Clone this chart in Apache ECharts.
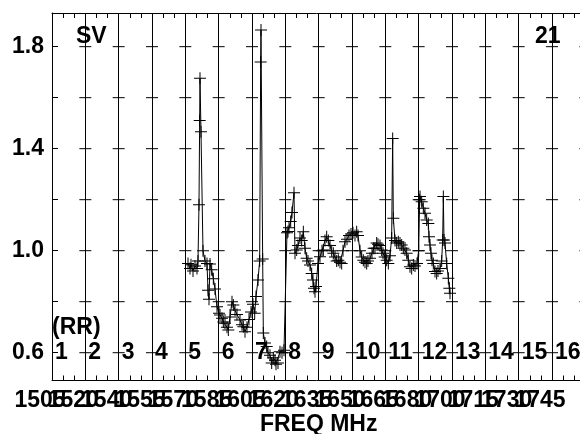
<!DOCTYPE html>
<html>
<head>
<meta charset="utf-8">
<script src="https://cdn.jsdelivr.net/npm/echarts@6/dist/echarts.min.js"></script>
<style>html,body{margin:0;background:#fff}#chart{width:580px;height:434px}</style>
</head>
<body>
<div id="chart"></div>
<script>
const freqLabels = ['1505', '1520', '1540', '1555', '1570', '1585', '1605', '1620', '1635', '1650', '1665', '1680', '1700', '1715', '1730', '1745']
const bandNames = ['1', '2', '3', '4', '5', '6', '7', '8', '9', '10', '11', '12', '13', '14', '15', '16']
const yTicks = [0.6, 0.8, 1.0, 1.2, 1.4, 1.6, 1.8]
const yLabels = [0.6, 1.0, 1.4, 1.8]

// position along the band axis, and the measured ratio
const bandPos = [
    5.08, 5.14, 5.17, 5.23, 5.29, 5.35, 5.38, 5.41, 5.43, 5.44, 5.47, 5.53, 5.59, 5.65, 5.68, 5.71, 5.74, 5.79, 5.84, 5.89,
    5.95, 6.01, 6.04, 6.10, 6.14, 6.19, 6.25, 6.29, 6.34, 6.40, 6.44, 6.49, 6.55, 6.64, 6.70, 6.74, 6.79, 6.85, 6.91, 6.97,
    7.03, 7.08, 7.12, 7.18, 7.23, 7.26, 7.27, 7.32, 7.34, 7.39, 7.44, 7.48, 7.54, 7.59, 7.64, 7.69, 7.72, 7.78, 7.84, 7.90,
    7.96, 8.05, 8.08, 8.11, 8.16, 8.20, 8.26, 8.29, 8.34, 8.38, 8.44, 8.49, 8.54, 8.59, 8.64, 8.68, 8.74, 8.79, 8.83, 8.86,
    8.89, 8.92, 8.98, 9.04, 9.10, 9.14, 9.19, 9.24, 9.29, 9.34, 9.39, 9.44, 9.49, 9.54, 9.59, 9.64, 9.69, 9.73, 9.79, 9.85,
    9.91, 9.97, 10.03, 10.09, 10.14, 10.18, 10.24, 10.29, 10.34, 10.39, 10.44, 10.48, 10.54, 10.60, 10.65, 10.69, 10.74, 10.78, 10.84, 10.89,
    10.93, 10.98, 11.04, 11.09, 11.14, 11.19, 11.22, 11.24, 11.29, 11.34, 11.39, 11.44, 11.49, 11.54, 11.59, 11.64, 11.69, 11.74, 11.79, 11.84,
    11.89, 11.95, 12.00, 12.03, 12.04, 12.09, 12.14, 12.19, 12.24, 12.29, 12.31, 12.34, 12.37, 12.40, 12.44, 12.49, 12.54, 12.58, 12.64, 12.69,
    12.72, 12.74, 12.76, 12.79, 12.84, 12.89, 12.92, 12.94
]
const ratio = [
    0.95, 0.93, 0.945, 0.92, 0.94, 0.93, 0.96, 1.18, 1.51, 1.676, 1.466, 1.0, 0.96, 0.95, 0.845, 0.81, 0.948, 0.925, 0.89, 0.85,
    0.78, 0.755, 0.748, 0.735, 0.72, 0.715, 0.70, 0.689, 0.74, 0.80, 0.787, 0.767, 0.75, 0.728, 0.71, 0.702, 0.682, 0.70, 0.73, 0.76,
    0.79, 0.755, 0.82, 0.885, 0.96, 1.74, 1.865, 0.967, 0.677, 0.638, 0.624, 0.60, 0.59, 0.56, 0.58, 0.57, 0.555, 0.56, 0.604, 0.60,
    0.61, 1.07, 1.075, 1.09, 1.114, 1.15, 1.227, 0.99, 1.003, 1.02, 1.05, 1.04, 1.074, 1.01, 0.97, 0.96, 0.944, 0.911, 0.885, 0.853,
    0.839, 0.86, 0.95, 0.976, 1.0, 1.003, 1.04, 1.055, 1.04, 1.02, 1.0, 0.99, 0.975, 0.96, 0.963, 0.955, 0.95, 1.0, 1.035, 1.045,
    1.06, 1.065, 1.07, 1.06, 1.074, 1.06, 1.0, 0.975, 0.963, 0.955, 0.95, 0.96, 0.97, 0.99, 1.01, 1.01, 1.03, 1.025, 1.02, 1.003,
    0.99, 0.975, 0.963, 0.95, 0.98, 1.05, 1.44, 1.127, 1.04, 1.03, 1.035, 1.03, 1.022, 1.01, 1.003, 0.99, 0.963, 0.937, 0.93, 0.944,
    0.94, 0.95, 1.0, 1.2, 1.212, 1.192, 1.166, 1.147, 1.12, 1.107, 1.055, 1.022, 0.99, 0.963, 0.95, 0.918, 0.911, 0.92, 0.93, 0.96,
    1.042, 1.212, 1.042, 1.03, 0.95, 0.892, 0.853, 0.833
]

const font = 'Liberation Sans, Arial, sans-serif'
const black = '#000'
const plusSymbol = 'path://M5.5,0h1v12h-1z M0,5.5h12v1h-12z'

const chart = echarts.init(document.getElementById('chart'), null, {renderer: 'canvas'})

const crossData = []
for (let b = 2; b <= 17; b++) {
    yTicks.forEach(v => crossData.push([b, v]))
}

const textStyle = {fontFamily: font, fontWeight: 'bold', fontSize: 23, color: black}

const option = {
    animation: false,
    backgroundColor: '#fff',
    grid: [
        {left: 52, top: 13, width: 533.33, height: 367.5, outerBoundsMode: 'none'},
        // frequency labels sit a little left of the band lines
        {left: 23.33, top: 13, width: 533.33, height: 367.5, outerBoundsMode: 'none'}
    ],
    xAxis: [
        {
            type: 'value', gridIndex: 0, position: 'bottom',
            min: 1, max: 17, interval: 1,
            axisLine: {show: true, onZero: false, lineStyle: {color: black, width: 1}},
            axisTick: {show: true, inside: true, length: 5, lineStyle: {color: black}},
            minorTick: {show: true, splitNumber: 3, length: 5, lineStyle: {color: black}},
            splitLine: {show: true, lineStyle: {color: black, width: 1}},
            axisLabel: {show: false},
            name: 'FREQ MHz', nameLocation: 'middle', nameGap: 33,
            nameTextStyle: textStyle
        },
        {
            type: 'value', gridIndex: 0, position: 'top',
            min: 1, max: 17, interval: 1,
            axisLine: {show: true, onZero: false, lineStyle: {color: black, width: 1}},
            axisTick: {show: true, inside: true, length: 5, lineStyle: {color: black}},
            minorTick: {show: true, splitNumber: 3, length: 5, lineStyle: {color: black}},
            splitLine: {show: false},
            axisLabel: {show: false}
        },
        {
            type: 'category', gridIndex: 1, data: freqLabels, boundaryGap: true,
            axisLine: {show: false}, axisTick: {show: false}, splitLine: {show: false},
            axisLabel: {show: true, interval: 0, margin: 9, ...textStyle}
        }
    ],
    yAxis: [
        {
            type: 'value', gridIndex: 0,
            min: 0.491, max: 1.932,
            axisLine: {show: true, onZero: false, lineStyle: {color: black, width: 1}},
            axisTick: {show: true, inside: true, length: 6, customValues: yTicks, lineStyle: {color: black}},
            splitLine: {show: false},
            axisLabel: {
                show: true, margin: 8, customValues: yLabels, ...textStyle,
                formatter: v => v.toFixed(1)
            }
        },
        {
            type: 'value', gridIndex: 1, min: 0.491, max: 1.932,
            show: false
        }
    ],
    graphic: [
        {type: 'text', left: 76, top: 25, style: {text: 'SV', font: 'bold 23px ' + font, fill: black}},
        {type: 'text', left: 535, top: 25, style: {text: '21', font: 'bold 23px ' + font, fill: black}},
        {type: 'text', left: 52, top: 316, style: {text: '(RR)', font: 'bold 23px ' + font, fill: black}}
    ],
    series: [
        {
            // short dashes where the y ticks cross each band line
            type: 'scatter', xAxisIndex: 0, yAxisIndex: 0,
            data: crossData,
            symbol: 'rect', symbolSize: [12, 1],
            itemStyle: {color: black, opacity: 1},
            silent: true, z: 3
        },
        {
            // band numbers along the 0.6 line
            type: 'scatter', xAxisIndex: 0, yAxisIndex: 0,
            data: bandNames.map((n, i) => [i + 1, 0.6]),
            symbolSize: 0,
            itemStyle: {opacity: 1},
            label: {
                show: true, position: 'right', distance: 3,
                formatter: p => bandNames[p.dataIndex],
                ...textStyle
            },
            silent: true, z: 4
        },
        {
            type: 'line', xAxisIndex: 0, yAxisIndex: 0,
            data: bandPos.map((x, i) => [x, ratio[i]]),
            symbol: plusSymbol, symbolSize: 12,
            showSymbol: true, showAllSymbol: true,
            lineStyle: {color: black, width: 1},
            itemStyle: {color: black, borderWidth: 0},
            z: 5
        }
    ]
}

chart.setOption(option)
</script>
</body>
</html>
